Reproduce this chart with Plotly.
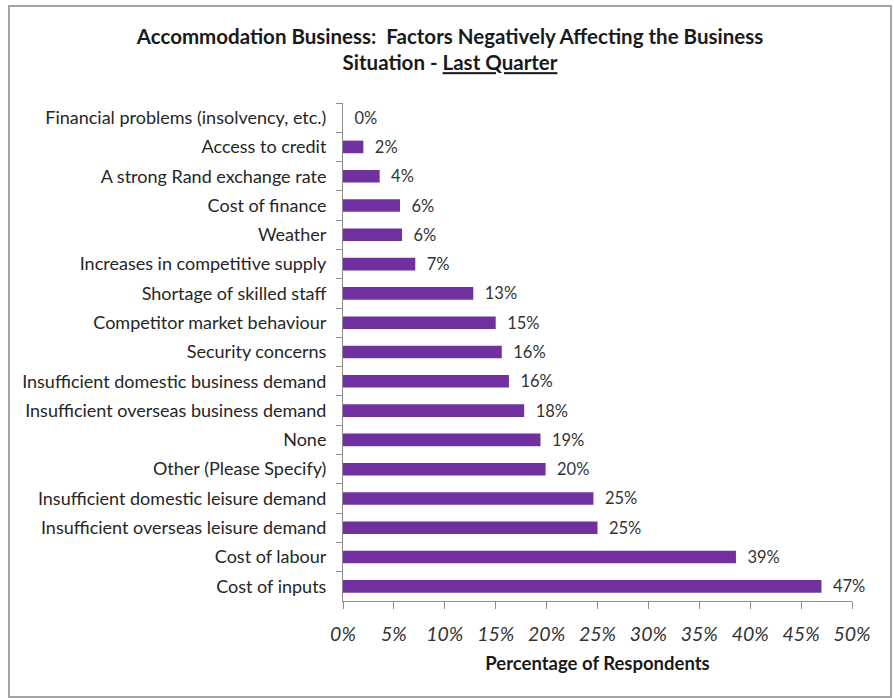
import plotly.graph_objects as go

# Factors listed top to bottom as they appear on the chart
factors = [
    "Financial problems (insolvency, etc.)",
    "Access to credit",
    "A strong Rand exchange rate",
    "Cost of finance",
    "Weather",
    "Increases in competitive supply",
    "Shortage of skilled staff",
    "Competitor market behaviour",
    "Security concerns",
    "Insufficient domestic business demand",
    "Insufficient overseas business demand",
    "None",
    "Other (Please Specify)",
    "Insufficient domestic leisure demand",
    "Insufficient overseas leisure demand",
    "Cost of labour",
    "Cost of inputs",
]
share_of_respondents = [
    0.000, 0.020, 0.036, 0.056, 0.058, 0.071, 0.128, 0.150, 0.156,
    0.163, 0.178, 0.194, 0.199, 0.246, 0.250, 0.386, 0.470,
]
x_ticks = [0, 0.05, 0.10, 0.15, 0.20, 0.25, 0.30, 0.35, 0.40, 0.45, 0.50]

W, H = 894, 698
ML, MR, MT, MB = 343, 42, 103, 97
FONT = "Lato"
PURPLE = "#7030A0"
AXIS_GREY = "#8c8c8c"

fig = go.Figure(
    go.Bar(
        x=share_of_respondents,
        y=factors,
        orientation="h",
        marker=dict(color=PURPLE, line=dict(width=0)),
        texttemplate="  %{x:.0%}",
        textposition="outside",
        constraintext="none",
        textfont=dict(family=FONT, size=16.5, color="#333333"),
        cliponaxis=False,
        hoverinfo="skip",
    )
)

# Outer frame around the whole chart, placed in paper units
pw, ph = W - ML - MR, H - MT - MB
def px_x(p):
    return (p - ML) / pw
def px_y(p):
    return (H - MB - p) / ph

fig.add_shape(
    type="rect", xref="paper", yref="paper",
    x0=px_x(9), x1=px_x(891), y0=px_y(697), y1=px_y(6),
    line=dict(color="#a3a3a3", width=2), fillcolor="rgba(0,0,0,0)",
    layer="below",
)

fig.update_layout(
    width=W, height=H,
    margin=dict(l=ML, r=MR, t=MT, b=MB, pad=0),
    paper_bgcolor="white", plot_bgcolor="white",
    showlegend=False,
    bargap=0.57,
    title=dict(
        text="<b>Accommodation Business:  Factors Negatively Affecting the Business<br>"
             "Situation - <u>Last Quarter</u></b>",
        x=450 / W, xanchor="center", xref="container",
        y=1 - 43.5 / H, yanchor="top", yref="container",
        font=dict(family=FONT, size=20.5, color="#1a1a1a"),
    ),
    xaxis=dict(
        range=[0, 0.5],
        tickvals=x_ticks,
        tickformat=".0%",
        showgrid=False, zeroline=False,
        showline=True, linecolor=AXIS_GREY, linewidth=1,
        ticks="outside", ticklen=7, tickcolor=AXIS_GREY, tickwidth=1,
        ticklabelstandoff=9,
        tickfont=dict(family=FONT, size=19.5, color="#333333", style="italic"),
        title=dict(text="<b>Percentage of Respondents</b>", standoff=12,
                   font=dict(family=FONT, size=18.5, color="#1a1a1a")),
    ),
    yaxis=dict(
        categoryorder="array", categoryarray=factors,
        autorange="reversed",
        showgrid=False, zeroline=False,
        showline=True, linecolor=AXIS_GREY, linewidth=1,
        ticks="outside", ticklen=6, tickcolor=AXIS_GREY, tickwidth=1,
        tickson="boundaries",
        ticklabelstandoff=12,
        tickfont=dict(family=FONT, size=18, color="#262626"),
    ),
)

fig.write_html("out.html")
